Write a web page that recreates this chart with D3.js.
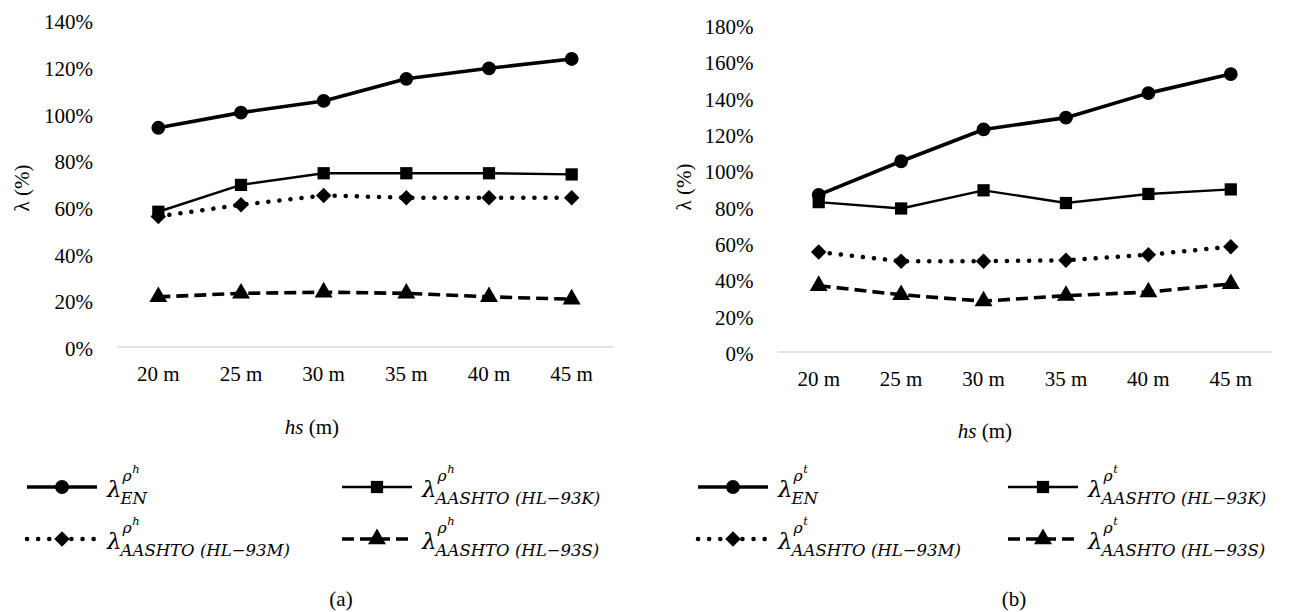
<!DOCTYPE html>
<html><head><meta charset="utf-8">
<script src="https://cdn.jsdelivr.net/npm/d3@7"></script>
<style>
html,body{margin:0;padding:0;background:#fff;}
svg{display:block;}
</style></head>
<body>
<svg id="chart" width="1311" height="612"></svg>
<script>
// ---------- DATA ----------
const categories = ["20 m","25 m","30 m","35 m","40 m","45 m"];
const ticksA = [0,20,40,60,80,100,120,140];
const ticksB = [0,20,40,60,80,100,120,140,160,180];
const a_EN = [94, 100.5, 105.5, 115, 119.5, 123.5];
const a_K  = [58, 69.5, 74.5, 74.5, 74.5, 74];
const a_M  = [56, 61, 65, 64, 64, 64];
const a_S  = [21.5, 23, 23.5, 23, 21.5, 20.5];
const b_EN = [86.5, 105, 122.5, 129, 142.5, 153];
const b_K  = [82.5, 79, 89, 82, 87, 89.5];
const b_M  = [55, 50, 50, 50.5, 53.5, 58];
const b_S  = [36.5, 31.5, 28, 31, 33, 37.5];
const seriesSubs = ["EN", "AASHTO (HL\u221293K)", "AASHTO (HL\u221293M)", "AASHTO (HL\u221293S)"];

// ---------- STYLE ----------
const styles = [
  {w:3.6, dash:null, cap:"butt", marker:"circle", size:150, rot:0},
  {w:2.4, dash:null, cap:"butt", marker:"square", size:150, rot:0},
  {w:4.5, dash:"0.1 11", cap:"round", marker:"square", size:120, rot:45},
  {w:3.6, dash:"12 6", cap:"butt", marker:"triangle", size:140, rot:0}
];
const symMap = {circle:d3.symbolCircle, square:d3.symbolSquare, triangle:d3.symbolTriangle};
const FONT = "'Liberation Serif', 'Times New Roman', serif";
const MATH = "'DejaVu Serif', serif";

const svg = d3.select("#chart");

function txt(sel, fam, size, italic){
  sel.style("font-family", fam).style("font-size", size + "px").style("fill", "#000");
  if (italic) sel.style("font-style", "italic");
  return sel;
}

function panel(cfg){
  const g = svg.append("g");
  const x = d3.scaleBand().domain(categories).range([cfg.x0, cfg.x1]);
  const y = d3.scaleLinear().domain([0, cfg.max]).range([cfg.yBase, cfg.yTop]);

  g.append("line").attr("x1", cfg.x0).attr("x2", cfg.x1)
    .attr("y1", y(0)).attr("y2", y(0))
    .attr("stroke", "#d9d9d9").attr("stroke-width", 1.5);

  const ya = g.append("g").attr("transform", `translate(${cfg.x0 - 24},0)`)
    .call(d3.axisLeft(y).tickValues(cfg.ticks).tickSize(0).tickPadding(0).tickFormat(d => d + "%"));
  ya.select(".domain").remove();
  txt(ya.selectAll("text"), FONT, 21).attr("dy", "0.40em");

  const xa = g.append("g").attr("transform", `translate(0,${y(0)})`)
    .call(d3.axisBottom(x).tickSize(0).tickPadding(19));
  xa.select(".domain").remove();
  txt(xa.selectAll("text"), FONT, 21);

  txt(g.append("text"), FONT, 21)
    .attr("transform", `translate(${cfg.ytX},${cfg.ytY}) rotate(-90)`)
    .attr("text-anchor", "middle").attr("dy", "0.35em").text("\u03bb (%)");

  const xt = txt(g.append("text"), FONT, 21).attr("x", cfg.xtX).attr("y", cfg.xtY).attr("text-anchor", "middle");
  xt.append("tspan").style("font-style", "italic").text("hs");
  xt.append("tspan").text(" (m)");

  cfg.series.forEach((vals, i) => {
    const st = styles[i];
    const line = d3.line().x((d, j) => x(categories[j]) + x.bandwidth()/2).y(d => y(d));
    g.append("path").datum(vals).attr("d", line).attr("fill", "none")
      .attr("stroke", "#000").attr("stroke-width", st.w)
      .attr("stroke-linecap", st.cap).attr("stroke-linejoin", "round")
      .attr("stroke-dasharray", st.dash);
    g.selectAll(null).data(vals).enter().append("path")
      .attr("transform", (d, j) => `translate(${x(categories[j]) + x.bandwidth()/2},${y(d)}) rotate(${st.rot})`)
      .attr("d", d3.symbol().type(symMap[st.marker]).size(st.size))
      .attr("fill", "#000");
  });

  cfg.legend.forEach((L, i) => {
    const st = styles[i];
    const lg = g.append("g");
    lg.append("line").attr("x1", L.x).attr("x2", L.x + 70).attr("y1", L.y).attr("y2", L.y)
      .attr("stroke", "#000").attr("stroke-width", st.w)
      .attr("stroke-linecap", st.cap).attr("stroke-dasharray", st.dash);
    lg.append("path").attr("transform", `translate(${L.x + 35},${L.y}) rotate(${st.rot})`)
      .attr("d", d3.symbol().type(symMap[st.marker]).size(st.size)).attr("fill", "#000");
    const tx = L.x + 80, base = L.y + 10;
    const lam = txt(lg.append("text"), MATH, 23, true).attr("x", tx).attr("y", base).text("\u03bb");
    const lw = lam.node().getComputedTextLength();
    const rho = txt(lg.append("text"), MATH, 15.5, true).attr("x", tx + lw + 1).attr("y", base - 16).text("\u03c1");
    const rw = rho.node().getComputedTextLength();
    txt(lg.append("text"), MATH, 11.5, true).attr("x", tx + lw + rw + 1.5).attr("y", base - 24).text(cfg.supLetter);
    txt(lg.append("text"), MATH, 16.5, true).attr("x", tx + lw - 1).attr("y", base + 7).text(seriesSubs[i]);
  });

  txt(g.append("text"), FONT, 21).attr("x", cfg.capX).attr("y", 606).attr("text-anchor", "middle").text(cfg.caption);
}

panel({x0:117, x1:613, yBase:347, yTop:20.5, max:140, ticks:ticksA,
  ytX:22, ytY:188, xtX:312, xtY:434,
  series:[a_EN, a_K, a_M, a_S], supLetter:"h", caption:"(a)", capX:341,
  legend:[{x:27,y:487},{x:342,y:487},{x:27,y:539},{x:342,y:539}]});

panel({x0:777.5, x1:1272, yBase:352, yTop:25, max:180, ticks:ticksB,
  ytX:684, ytY:187, xtX:985, xtY:438,
  series:[b_EN, b_K, b_M, b_S], supLetter:"t", caption:"(b)", capX:1014,
  legend:[{x:698,y:487},{x:1008,y:487},{x:698,y:539},{x:1008,y:539}]});
</script>
</body></html>
